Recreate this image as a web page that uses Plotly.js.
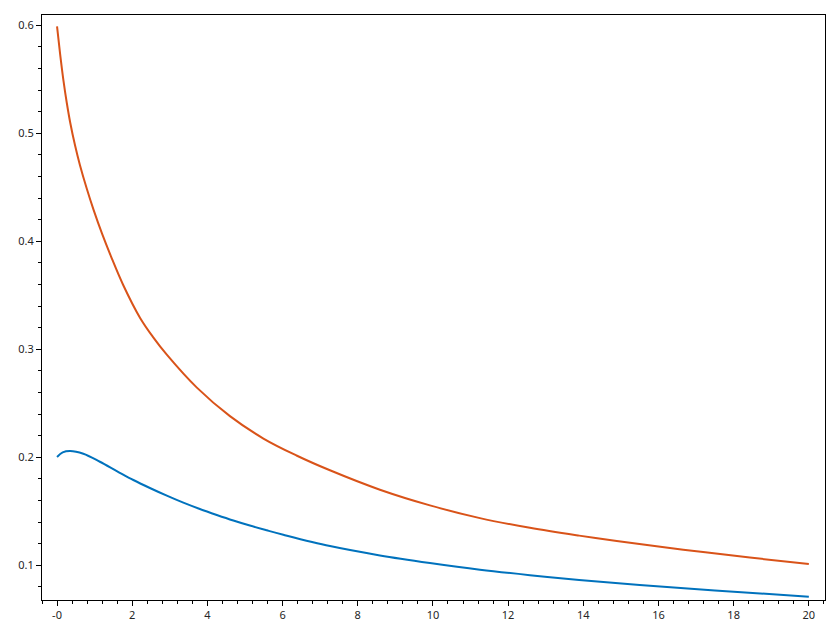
<!DOCTYPE html>
<html>
<head>
<meta charset="utf-8">
<script src="https://cdn.plot.ly/plotly-3.0.1.min.js"></script>
<style>
  html, body { margin: 0; padding: 0; background: #fff; }
  #chart { width: 840px; height: 630px; }
</style>
</head>
<body>
<div id="chart"></div>
<script>
const chart = document.getElementById('chart');

// orange curve
const xOrange = [0, 0.08, 0.17, 0.26, 0.35, 0.48, 0.61, 0.79, 0.97, 1.2, 1.44, 1.76, 2.21, 2.55, 2.92, 3.72, 4.60, 5.49, 6.37, 7.26, 8.59, 9.92, 11.25, 12.58, 13.89, 14.89, 16.66, 18.43, 20];
const yOrange = [0.599, 0.574, 0.549, 0.528, 0.510, 0.4886, 0.4704, 0.4488, 0.4293, 0.4068, 0.3856, 0.3595, 0.3290, 0.3115, 0.2950, 0.2645, 0.2381, 0.2174, 0.2017, 0.1880, 0.1700, 0.1555, 0.1437, 0.1347, 0.1275, 0.1226, 0.1145, 0.1072, 0.1012];

// blue curve
const xBlue = [0, 0.15, 0.346, 0.70, 1.14, 1.59, 2.03, 2.47, 2.92, 3.36, 3.80, 4.25, 4.69, 5.13, 5.58, 6.02, 7.26, 8.59, 9.92, 11.25, 12.58, 13.89, 15.5, 17.5, 20];
const yBlue = [0.2003, 0.2045, 0.2058, 0.2033, 0.1959, 0.1873, 0.1790, 0.1716, 0.1645, 0.1580, 0.1521, 0.1466, 0.1415, 0.1368, 0.1324, 0.1283, 0.1178, 0.1092, 0.1022, 0.0960, 0.0909, 0.0865, 0.0818, 0.0768, 0.0709];

const xTickVals = [0, 2, 4, 6, 8, 10, 12, 14, 16, 18, 20];
const xTickText = ['-0', '2', '4', '6', '8', '10', '12', '14', '16', '18', '20'];
const yTickVals = [0.1, 0.2, 0.3, 0.4, 0.5, 0.6];

const data = [{
    x: xBlue,
    y: yBlue,
    type: 'scatter',
    mode: 'lines',
    line: { color: '#0072BD', width: 2, shape: 'spline', smoothing: 1 },
    hoverinfo: 'skip'
}, {
    x: xOrange,
    y: yOrange,
    type: 'scatter',
    mode: 'lines',
    line: { color: '#D95319', width: 2, shape: 'spline', smoothing: 1 },
    hoverinfo: 'skip'
}];

const layout = {
    width: 840,
    height: 630,
    showlegend: false,
    margin: { l: 42, r: 15, t: 15, b: 30, pad: 0 },
    paper_bgcolor: '#ffffff',
    plot_bgcolor: '#ffffff',
    font: { family: 'Noto Sans, DejaVu Sans, sans-serif', size: 11, color: '#262626' },
    xaxis: {
        range: [-0.4, 20.43],
        tickvals: xTickVals,
        ticktext: xTickText,
        ticks: 'outside',
        ticklen: 5,
        tickcolor: '#000',
        showline: true,
        linecolor: '#000',
        linewidth: 1,
        mirror: true,
        showgrid: false,
        zeroline: false,
        minor: { ticks: 'outside', ticklen: 3, tickcolor: '#000', dtick: 0.4, tick0: 0, showgrid: false }
    },
    yaxis: {
        range: [0.0679, 0.6095],
        tickvals: yTickVals,
        ticks: 'outside',
        ticklen: 5,
        tickcolor: '#000',
        showline: true,
        linecolor: '#000',
        linewidth: 1,
        mirror: true,
        showgrid: false,
        zeroline: false,
        minor: { ticks: 'outside', ticklen: 3, tickcolor: '#000', dtick: 0.02, tick0: 0, showgrid: false }
    }
};

const config = {
    staticPlot: true,
    displaylogo: false
};

Plotly.newPlot(chart, data, layout, config);
</script>
</body>
</html>
